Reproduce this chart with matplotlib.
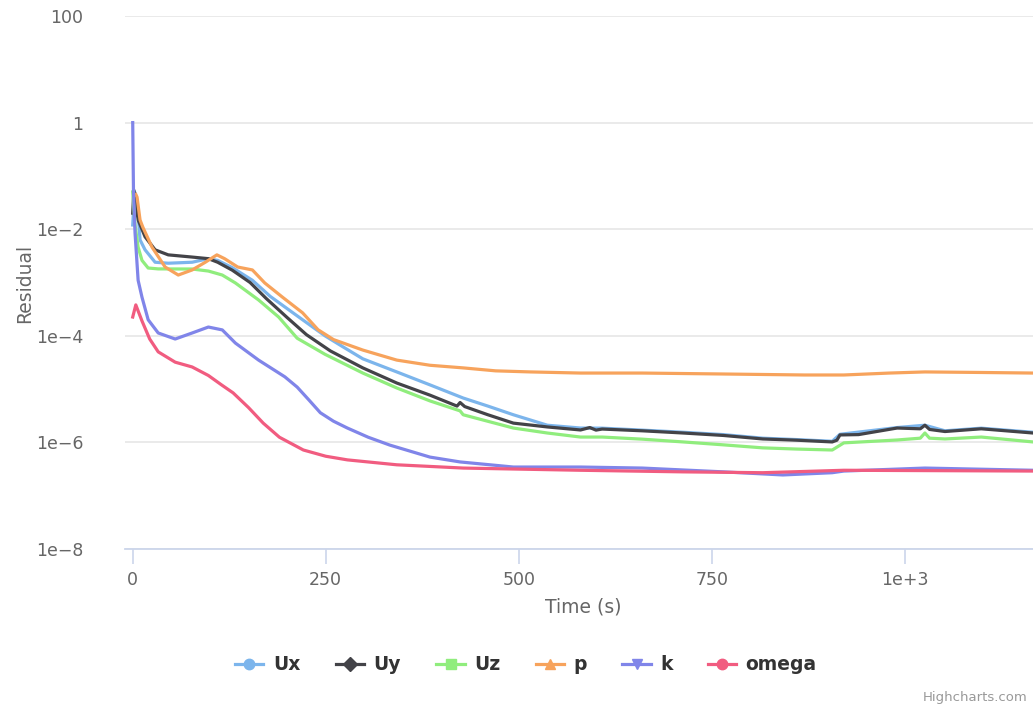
import matplotlib.pyplot as plt
from matplotlib.lines import Line2D
from matplotlib.ticker import FixedLocator, NullLocator

# --- Residual histories (time in s, residual) ---
ux_t = [0, 2.5, 5.6, 9.5, 16, 29, 46, 77, 98, 110, 129, 155, 178, 206, 232, 249, 270, 298,
        342, 385, 428, 460, 493, 537, 580, 608, 660, 713, 765, 816, 860, 906, 916, 990,
        1026, 1052, 1099, 1166]
ux_r = [0.012, 0.05, 0.035, 0.0063, 0.0041, 0.0024, 0.0023, 0.0024, 0.0028, 0.0026, 0.0019,
        0.0011, 5.5e-4, 2.8e-4, 1.5e-4, 1.0e-4, 6.5e-5, 3.7e-5, 2.1e-5, 1.2e-5, 6.8e-6,
        4.8e-6, 3.3e-6, 2.1e-6, 1.86e-6, 1.85e-6, 1.7e-6, 1.55e-6, 1.4e-6, 1.2e-6, 1.13e-6,
        1.05e-6, 1.42e-6, 1.9e-6, 2.1e-6, 1.65e-6, 1.85e-6, 1.55e-6]

uy_t = [0, 1.5, 7, 16, 29, 46, 77, 98, 110, 129, 152, 173, 200, 225, 256, 298, 342, 385,
        420, 424, 430, 460, 493, 537, 580, 592, 600, 608, 660, 713, 765, 816, 860, 906, 912,
        916, 940, 990, 1020, 1026, 1032, 1052, 1099, 1166]
uy_r = [0.02, 0.054, 0.0149, 0.0072, 0.0041, 0.0033, 0.0030, 0.0028, 0.0024, 0.0017, 0.001,
        5.0e-4, 2.2e-4, 1.05e-4, 5.2e-5, 2.5e-5, 1.3e-5, 7.7e-6, 4.8e-6, 5.6e-6, 4.7e-6,
        3.3e-6, 2.3e-6, 1.95e-6, 1.71e-6, 1.9e-6, 1.7e-6, 1.78e-6, 1.65e-6, 1.5e-6, 1.35e-6,
        1.16e-6, 1.1e-6, 1.02e-6, 1.1e-6, 1.38e-6, 1.4e-6, 1.86e-6, 1.8e-6, 2.1e-6, 1.75e-6,
        1.6e-6, 1.8e-6, 1.5e-6]

uz_t = [0, 3, 7, 12, 20, 33, 77, 98, 116, 133, 163, 189, 213, 249, 298, 342, 385, 424, 428,
        493, 537, 580, 608, 660, 713, 765, 816, 860, 906, 921, 990, 1020, 1026, 1032, 1052,
        1099, 1166]
uz_r = [0.05, 0.012, 0.0046, 0.0026, 0.00187, 0.0018, 0.00179, 0.00164, 0.00138, 0.00098,
        4.7e-4, 2.25e-4, 9e-5, 4.5e-5, 2.0e-5, 1.05e-5, 6.0e-6, 3.9e-6, 3.3e-6, 1.86e-6,
        1.5e-6, 1.26e-6, 1.26e-6, 1.15e-6, 1.02e-6, 9e-7, 7.9e-7, 7.5e-7, 7.2e-7, 9.8e-7,
        1.11e-6, 1.2e-6, 1.5e-6, 1.2e-6, 1.16e-6, 1.26e-6, 1.02e-6]

p_t = [4, 5.6, 9.5, 13, 25, 42, 59, 77, 94, 109, 119, 136, 155, 171, 194, 220, 240, 260, 298,
       342, 385, 428, 470, 515, 580, 660, 765, 870, 921, 980, 1026, 1100, 1166]
p_r = [0.045, 0.04, 0.0149, 0.011, 0.0046, 0.00195, 0.00138, 0.00172, 0.0024, 0.0033, 0.0028,
       0.00195, 0.00172, 9.8e-4, 5.3e-4, 2.7e-4, 1.3e-4, 8.5e-5, 5.4e-5, 3.5e-5, 2.8e-5,
       2.5e-5, 2.2e-5, 2.1e-5, 2.0e-5, 2.0e-5, 1.92e-5, 1.84e-5, 1.84e-5, 2.0e-5, 2.1e-5,
       2.05e-5, 2.0e-5]

k_t = [0, 1, 3, 7, 12, 20, 33, 55, 77, 98, 116, 133, 163, 197, 213, 228, 243, 260, 278, 305,
       333, 385, 424, 493, 580, 660, 765, 842, 906, 921, 1026, 1166]
k_r = [1.0, 0.05, 0.0085, 0.0011, 5.3e-4, 2.0e-4, 1.13e-4, 8.7e-5, 1.13e-4, 1.46e-4, 1.29e-4,
       7.3e-5, 3.5e-5, 1.7e-5, 1.09e-5, 6.3e-6, 3.6e-6, 2.5e-6, 1.86e-6, 1.25e-6, 8.9e-7,
       5.3e-7, 4.3e-7, 3.45e-7, 3.45e-7, 3.3e-7, 2.8e-7, 2.45e-7, 2.7e-7, 2.9e-7, 3.3e-7,
       3.0e-7]

omega_t = [0, 4, 12, 22, 33, 55, 77, 98, 115, 130, 150, 169, 190, 221, 250, 278, 342, 428,
           580, 713, 816, 921, 1166]
omega_r = [2.25e-4, 3.8e-4, 1.9e-4, 8.7e-5, 5e-5, 3.2e-5, 2.6e-5, 1.8e-5, 1.2e-5, 8.5e-6,
           4.5e-6, 2.3e-6, 1.25e-6, 7.2e-7, 5.5e-7, 4.7e-7, 3.8e-7, 3.3e-7, 3.0e-7, 2.8e-7,
           2.7e-7, 3.0e-7, 2.9e-7]

series = [
    ("Ux", ux_t, ux_r, "#7cb5ec", "o"),
    ("Uy", uy_t, uy_r, "#434348", "D"),
    ("Uz", uz_t, uz_r, "#90ed7d", "s"),
    ("p", p_t, p_r, "#f7a35c", "^"),
    ("k", k_t, k_r, "#8085e9", "v"),
    ("omega", omega_t, omega_r, "#f15c80", "o"),
]

y_ticks = [1e-8, 1e-6, 1e-4, 1e-2, 1, 100]
y_labels = ["1e\u22128", "1e\u22126", "1e\u22124", "1e\u22122", "1", "100"]
x_ticks = [0, 250, 500, 750, 1000]
x_labels = ["0", "250", "500", "750", "1e+3"]

plt.rcParams["font.family"] = ["DejaVu Sans"]

fig = plt.figure(figsize=(10.33, 7.15), dpi=100)
ax = fig.add_axes([125 / 1033, 1 - 549 / 715, 1 - 125 / 1033, (549 - 16) / 715])

for name, t, r, color, marker in series:
    ax.plot(t, r, color=color, lw=2.3, solid_joinstyle="round")

ax.set_yscale("log")
ax.set_ylim(1e-8, 100)
ax.set_xlim(-10, 1166)

ax.yaxis.set_major_locator(FixedLocator(y_ticks))
ax.yaxis.set_minor_locator(NullLocator())
ax.set_yticklabels(y_labels)
ax.set_xticks(x_ticks)
ax.set_xticklabels(x_labels)

ax.grid(axis="y", color="#e6e6e6", lw=1.2)
ax.set_axisbelow(True)
for side in ["top", "right", "left"]:
    ax.spines[side].set_visible(False)
ax.spines["bottom"].set_color("#ccd6eb")
ax.spines["bottom"].set_linewidth(1.3)

ax.tick_params(axis="y", length=0, pad=30, labelsize=12.5, labelcolor="#666666")
ax.tick_params(axis="x", length=11, width=1.2, color="#ccd6eb", pad=5,
               labelsize=12.5, labelcolor="#666666")

fig.text(583 / 1033, 1 - 607 / 715, "Time (s)", ha="center", va="center",
         fontsize=13.5, color="#666666")
fig.text(25 / 1033, 1 - 283 / 715, "Residual", ha="center", va="center",
         rotation=90, fontsize=13.5, color="#666666")

handles = [Line2D([], [], color=c, lw=2.3, marker=m, markersize=7.5)
           for _, _, _, c, m in series]
leg = fig.legend(handles, [s[0] for s in series], loc="center",
                 bbox_to_anchor=(526 / 1033, 1 - 665 / 715), ncol=6, frameon=False,
                 handlelength=1.5, handletextpad=0.5, columnspacing=1.9,
                 prop={"weight": "bold", "size": 13.5})
for txt in leg.get_texts():
    txt.set_color("#333333")

fig.text(1028 / 1033, 1 - 697 / 715, "Highcharts.com", ha="right", va="center",
         fontsize=9.5, color="#999999")

fig.savefig("out.png", dpi=100)
